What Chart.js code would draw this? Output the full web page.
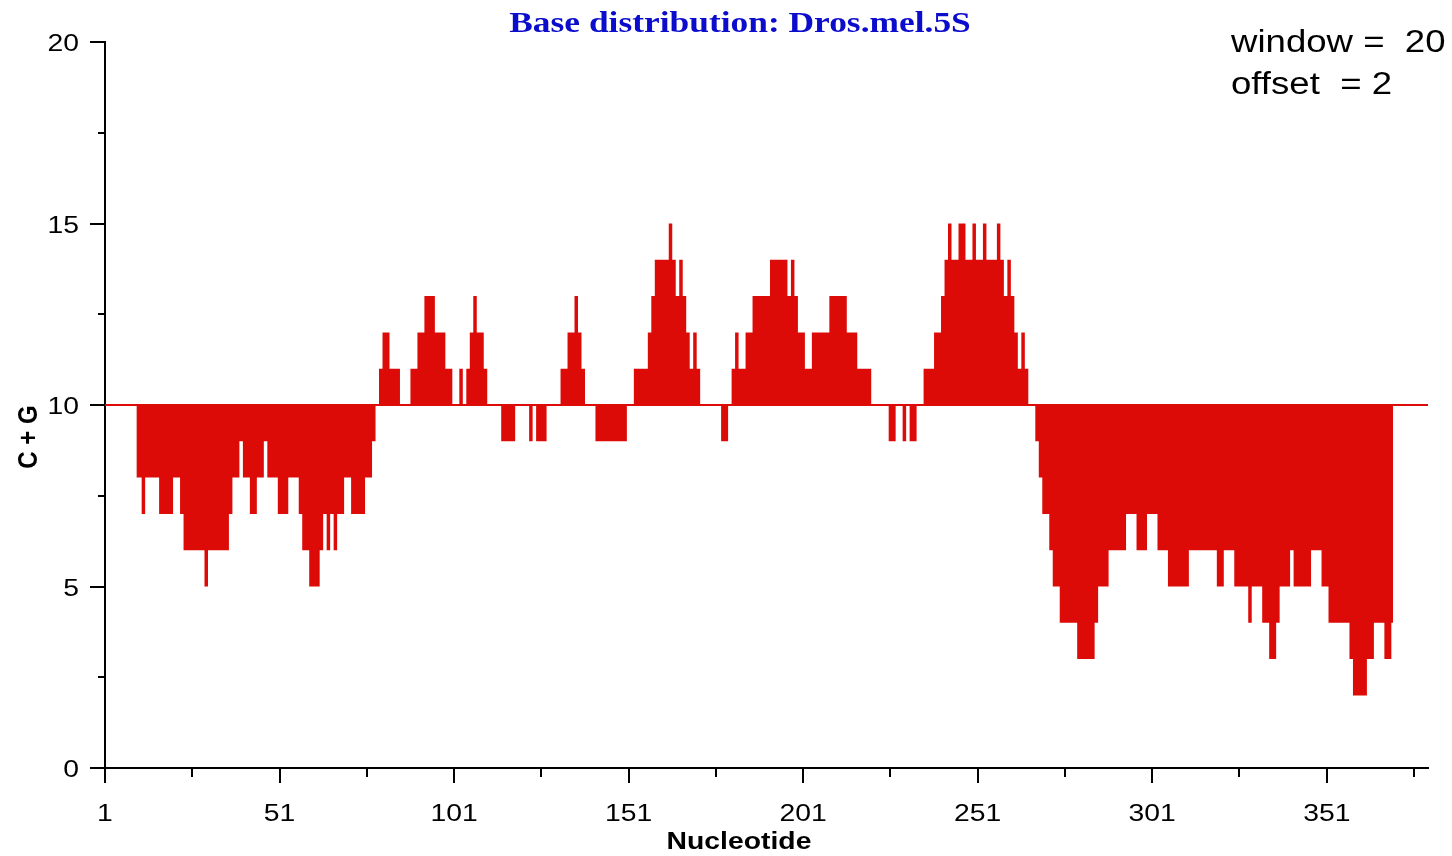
<!DOCTYPE html>
<html>
<head>
<meta charset="utf-8">
<title>Base distribution: Dros.mel.5S</title>
<script src="https://cdn.jsdelivr.net/npm/chart.js@4/dist/chart.umd.min.js"></script>
<style>
  html, body { margin: 0; padding: 0; background: #ffffff; }
  #wrap { width: 1452px; height: 856px; position: relative; }
</style>
</head>
<body>
<div id="wrap"><canvas id="chart" width="1452" height="856"></canvas></div>
<script>
// ---- text ----
const chartTitle = 'Base distribution: Dros.mel.5S';
const xAxisTitle = 'Nucleotide';
const yAxisTitle = 'C + G';
const settingLines = ['window =  20', 'offset  = 2'];

// ---- data: C+G count in a 20-nt window, one value per window centre ----
const firstPosition = 10;
const cgCounts = [
  8, 8, 7, 8, 8, 8, 8, 7, 7, 7,          // 10-19
  7, 8, 8, 7, 6, 6, 6, 6, 6, 6,          // 20-29
  5, 6, 6, 6, 6, 6, 6, 7, 8, 8,          // 30-39
  9, 8, 8, 7, 7, 8, 8, 9, 8, 8,          // 40-49
  8, 7, 7, 7, 8, 8, 8, 7, 6, 6,          // 50-59
  5, 5, 5, 6, 7, 6, 7, 6, 7, 7,          // 60-69
  8, 8, 7, 7, 7, 7, 8, 8, 9, 10,         // 70-79
  11, 12, 12, 11, 11, 11, 10, 10, 10, 11, // 80-89
  11, 12, 12, 13, 13, 13, 12, 12, 12, 11, // 90-99
  11, 10, 10, 11, 10, 11, 12, 13, 12, 12, // 100-109
  11, 10, 10, 10, 10, 9, 9, 9, 9, 10,     // 110-119
  10, 10, 10, 9, 10, 9, 9, 9, 10, 10,     // 120-129
  10, 10, 11, 11, 12, 12, 13, 12, 11, 10, // 130-139
  10, 10, 9, 9, 9, 9, 9, 9, 9, 9,         // 140-149
  9, 10, 10, 11, 11, 11, 11, 12, 13, 14,  // 150-159
  14, 14, 14, 15, 14, 13, 14, 13, 12, 11, // 160-169
  12, 11, 10, 10, 10, 10, 10, 10, 9, 9,   // 170-179
  10, 11, 12, 11, 11, 12, 12, 13, 13, 13, // 180-189
  13, 13, 14, 14, 14, 14, 14, 13, 14, 13, // 190-199
  12, 12, 11, 11, 12, 12, 12, 12, 12, 13, // 200-209
  13, 13, 13, 13, 12, 12, 12, 11, 11, 11, // 210-219
  11, 10, 10, 10, 10, 10, 9, 9, 10, 10,   // 220-229
  9, 10, 9, 9, 10, 10, 11, 11, 11, 12,    // 230-239
  12, 13, 14, 15, 14, 14, 15, 15, 14, 14, // 240-249
  15, 14, 14, 15, 14, 14, 14, 15, 14, 13, // 250-259
  14, 13, 12, 11, 12, 11, 10, 10, 9, 8,   // 260-269
  7, 7, 6, 5, 5, 4, 4, 4, 4, 4,           // 270-279
  3, 3, 3, 3, 3, 4, 5, 5, 5, 6,           // 280-289
  6, 6, 6, 6, 7, 7, 7, 6, 6, 6,           // 290-299
  7, 7, 7, 6, 6, 6, 5, 5, 5, 5,           // 300-309
  5, 5, 6, 6, 6, 6, 6, 6, 6, 6,           // 310-319
  5, 5, 6, 6, 6, 5, 5, 5, 5, 4,           // 320-329
  5, 5, 5, 4, 4, 3, 3, 4, 5, 5,           // 330-339
  5, 6, 5, 5, 5, 5, 5, 6, 6, 6,           // 340-349
  5, 5, 4, 4, 4, 4, 4, 4, 3, 2,           // 350-359
  2, 2, 2, 3, 3, 4, 4, 4, 3, 3,           // 360-369
  4                                       // 370
];
const positions = cgCounts.map((_, i) => firstPosition + i);
const baselineLevel = 10;

// ---- axes ----
const xRange = [1, 380];
const yRange = [0, 20];
const xTickValues = [1, 26, 51, 76, 101, 126, 151, 176, 201, 226, 251, 276, 301, 326, 351, 376];
const xLabelValues = [1, 51, 101, 151, 201, 251, 301, 351];
const yTickValues = [0, 2.5, 5, 7.5, 10, 12.5, 15, 17.5, 20];
const yLabelValues = [0, 5, 10, 15, 20];

// ---- style ----
const barRed = '#dd0b08';
const titleBlue = '#0c0ccc';
const inkBlack = '#000000';
const STRETCH = 1.18;

function wideText(ctx, text, x, y, font, color, align, rotation) {
  ctx.save();
  ctx.translate(x, y);
  ctx.scale(STRETCH, 1);
  if (rotation) ctx.rotate(rotation);
  ctx.font = font;
  ctx.fillStyle = color;
  ctx.textAlign = align;
  ctx.textBaseline = 'alphabetic';
  ctx.fillText(text, 0, 0);
  ctx.restore();
}

const frameDecor = {
  id: 'frameDecor',
  afterDraw(chart) {
    const ctx = chart.ctx;
    const xs = chart.scales.x;
    const ys = chart.scales.y;

    // tick marks: long at labelled values, short in between
    ctx.save();
    ctx.strokeStyle = inkBlack;
    ctx.lineWidth = 2;
    ctx.beginPath();
    yTickValues.forEach(v => {
      const py = Math.round(ys.getPixelForValue(v));
      const len = yLabelValues.includes(v) ? 15 : 7;
      ctx.moveTo(ys.right - len, py);
      ctx.lineTo(ys.right, py);
    });
    xTickValues.forEach(v => {
      const px = Math.round(xs.getPixelForValue(v));
      const len = xLabelValues.includes(v) ? 15 : 9;
      ctx.moveTo(px, xs.top);
      ctx.lineTo(px, xs.top + len);
    });
    ctx.stroke();
    ctx.restore();

    // tick labels
    const tickFont = '24px "Liberation Sans", Arial, sans-serif';
    yLabelValues.forEach(v => {
      const py = ys.getPixelForValue(v);
      wideText(ctx, String(v), ys.right - 26, py + 9, tickFont, inkBlack, 'right');
    });
    xLabelValues.forEach(v => {
      const px = xs.getPixelForValue(v);
      wideText(ctx, String(v), px, xs.top + 53, tickFont, inkBlack, 'center');
    });

    // axis titles
    const axisFont = 'bold 24px "Liberation Sans", Arial, sans-serif';
    wideText(ctx, xAxisTitle, 739, 849, axisFont, inkBlack, 'center');
    wideText(ctx, yAxisTitle, 37, 437, axisFont, inkBlack, 'center', -Math.PI / 2);

    // chart title
    wideText(ctx, chartTitle, 740, 32, 'bold 30px "Liberation Serif", "Times New Roman", serif', titleBlue, 'center');

    // window / offset note
    const noteFont = '31px "Liberation Sans", Arial, sans-serif';
    wideText(ctx, settingLines[0], 1231, 52, noteFont, inkBlack, 'left');
    wideText(ctx, settingLines[1], 1231, 94, noteFont, inkBlack, 'left');
  }
};

new Chart(document.getElementById('chart'), {
  type: 'line',
  data: {
    datasets: [
      {
        label: 'C + G',
        data: positions.map((p, i) => ({ x: p, y: cgCounts[i] })),
        stepped: 'middle',
        borderColor: 'rgba(0,0,0,0)',
        borderWidth: 1,
        pointRadius: 0,
        backgroundColor: barRed,
        fill: { value: baselineLevel },
        order: 2
      },
      {
        label: 'baseline',
        data: [{ x: xRange[0], y: baselineLevel }, { x: xRange[1], y: baselineLevel }],
        borderColor: barRed,
        borderWidth: 2,
        pointRadius: 0,
        fill: false,
        order: 1
      }
    ]
  },
  options: {
    responsive: false,
    devicePixelRatio: 1,
    animation: false,
    layout: { padding: { top: 42, right: 24, left: 0, bottom: 0 } },
    plugins: {
      legend: { display: false },
      title: { display: false },
      tooltip: { enabled: false }
    },
    scales: {
      x: {
        type: 'linear',
        min: xRange[0],
        max: xRange[1],
        offset: false,
        grid: { display: false, drawTicks: false },
        border: { display: true, color: inkBlack, width: 2 },
        ticks: { display: false },
        afterBuildTicks: s => { s.ticks = xTickValues.map(v => ({ value: v })); },
        afterFit: s => { s.height = 88; }
      },
      y: {
        type: 'linear',
        min: yRange[0],
        max: yRange[1],
        grid: { display: false, drawTicks: false },
        border: { display: true, color: inkBlack, width: 2 },
        ticks: { display: false },
        afterBuildTicks: s => { s.ticks = yTickValues.map(v => ({ value: v })); },
        afterFit: s => { s.width = 105; }
      }
    }
  },
  plugins: [frameDecor]
});
</script>
</body>
</html>
